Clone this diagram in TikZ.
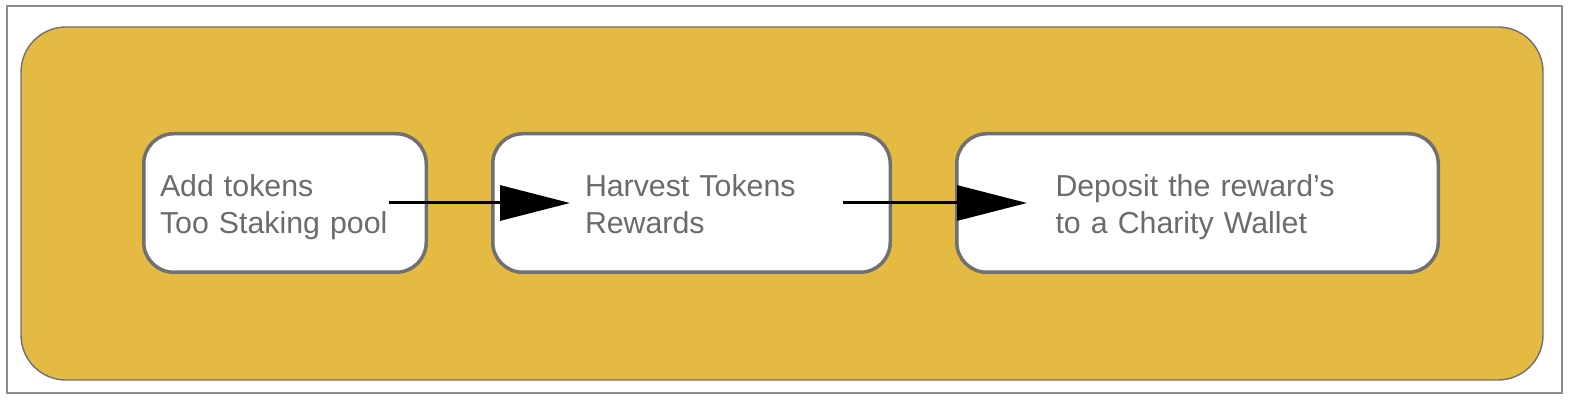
\documentclass[tikz,border=0pt]{standalone}
\usepackage{fontspec}
\setmainfont{Liberation Sans}
\usepackage{tikz}
\usetikzlibrary{shapes,arrows.meta,positioning,calc}
\definecolor{panelgold}{HTML}{E5BA42}
\definecolor{edgegray}{HTML}{707070}
\definecolor{textgray}{HTML}{6B6B6B}

\begin{document}
\begin{tikzpicture}[x=1pt, y=1pt, node distance=63pt,
        stepbox/.style={rectangle, rounded corners=30pt, draw=edgegray, line width=3.5pt, fill=white, minimum height=138.5pt, text=textgray, align=left, text height=22pt, text depth=34pt, font=\fontsize{30.3}{37}\selectfont},
        flow/.style={-{Triangle[length=70pt,width=35pt]}, line width=3pt}]
        \useasboundingbox (0,0) rectangle (1570,404);

        % frame and panel
        \draw[gray!90, line width=1.8pt] (7,11) rectangle (1562,398);
        \draw[edgegray, line width=1.4pt, fill=panelgold, rounded corners=45pt] (21,24) rectangle (1543,377);

        \node (add) [stepbox, minimum width=282.5pt, text width=250pt] at (285,201) {Add tokens\\Too Staking pool};
        \node (harvest) [stepbox, minimum width=397.5pt, text width=213pt, right=of add] {Harvest Tokens\\Rewards};
        \node (deposit) [stepbox, minimum width=481.5pt, text width=284pt, right=of harvest] {Deposit the reward’s\\to a Charity Wallet};

        % flow between steps
        \draw[flow] ([xshift=-39pt]add.east) -- ([xshift=79pt]harvest.west);
        \draw[flow] ([xshift=-49pt]harvest.east) -- ([xshift=72pt]deposit.west);
    \end{tikzpicture}
\end{document}
